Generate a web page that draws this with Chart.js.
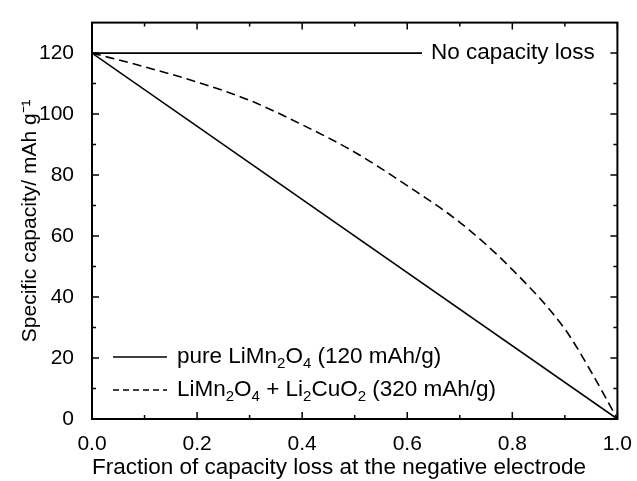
<!DOCTYPE html>
<html>
<head>
<meta charset="utf-8">
<script src="https://cdn.jsdelivr.net/npm/chart.js@4"></script>
<style>
  html, body { margin: 0; padding: 0; background: #fff; }
  #wrap { width: 637px; height: 481px; }
</style>
</head>
<body>
<div id="wrap"><canvas id="myChart"></canvas></div>
<script>
// data
const blendX = [0, 0.1, 0.2, 0.3, 0.4, 0.5, 0.6, 0.7, 0.8, 0.9, 0.95, 1.0];
const blendCapacity = [120, 115.5, 110.5, 104.5, 96.5, 87.5, 76.5, 64.5, 49, 29.5, 15.5, 0];
const pureX = [0, 1];
const pureCapacity = [120, 0];
const noLossX = [0, 0.628];
const noLossCapacity = [120, 120];
const xTicks = [0, 0.2, 0.4, 0.6, 0.8, 1.0];
const xMinorTicks = [0.1, 0.3, 0.5, 0.7, 0.9];
const yTicks = [0, 20, 40, 60, 80, 100, 120];
const yMinorTicks = [10, 30, 50, 70, 90, 110];

const FONT = "'Liberation Sans', Arial, sans-serif";
const toPoints = (xs, ys) => xs.map((x, i) => ({ x: x, y: ys[i] }));

// legend entries, subscripts marked with sub: true
const legendItems = [
  { dash: [], parts: [{ t: "pure LiMn" }, { t: "2", sub: true }, { t: "O" }, { t: "4", sub: true }, { t: " (120 mAh/g)" }] },
  { dash: [6, 4], parts: [{ t: "LiMn" }, { t: "2", sub: true }, { t: "O" }, { t: "4", sub: true }, { t: " + Li" }, { t: "2", sub: true }, { t: "CuO" }, { t: "2", sub: true }, { t: " (320 mAh/g)" }] },
];

// frame, inward ticks, labels
const decorations = {
  id: "decorations",
  afterDraw(chart) {
    const { ctx, chartArea: a, scales } = chart;
    const x = scales.x, y = scales.y;
    ctx.save();
    ctx.strokeStyle = "#000";
    ctx.lineWidth = 1.5;
    const tick = (vals, len) => {
      vals.forEach(v => {
        const px = x.getPixelForValue(v);
        ctx.beginPath();
        ctx.moveTo(px, a.bottom); ctx.lineTo(px, a.bottom - len);
        ctx.moveTo(px, a.top); ctx.lineTo(px, a.top + len);
        ctx.stroke();
      });
    };
    const tickY = (vals, len) => {
      vals.forEach(v => {
        const py = y.getPixelForValue(v);
        ctx.beginPath();
        ctx.moveTo(a.left, py); ctx.lineTo(a.left + len, py);
        ctx.moveTo(a.right, py); ctx.lineTo(a.right - len, py);
        ctx.stroke();
      });
    };
    tick(xTicks, 7);
    tick(xMinorTicks, 4);
    tickY(yTicks, 7);
    tickY(yMinorTicks, 4);
    ctx.lineWidth = 2;
    ctx.strokeRect(a.left, a.top, a.right - a.left, a.bottom - a.top);

    // "No capacity loss" label
    ctx.fillStyle = "#000";
    ctx.font = "22.5px " + FONT;
    ctx.textBaseline = "middle";
    ctx.fillText("No capacity loss", x.getPixelForValue(noLossX[1]) + 9, y.getPixelForValue(120));

    // legend
    legendItems.forEach((item, i) => {
      const ly = a.bottom - 62 + i * 33;
      ctx.lineWidth = 1.5;
      ctx.setLineDash(item.dash);
      ctx.beginPath();
      ctx.moveTo(a.left + 21, ly);
      ctx.lineTo(a.left + 75, ly);
      ctx.stroke();
      ctx.setLineDash([]);
      let tx = a.left + 85;
      item.parts.forEach(p => {
        ctx.font = (p.sub ? "15px " : "22.5px ") + FONT;
        ctx.fillText(p.t, tx, ly + (p.sub ? 7 : 0));
        tx += ctx.measureText(p.t).width;
      });
    });
    ctx.restore();
  },
};

const lineStyle = {
  borderColor: "#000",
  backgroundColor: "#000",
  borderWidth: 1.6,
  pointRadius: 0,
  showLine: true,
  fill: false,
};

const config = {
  type: "scatter",
  data: {
    datasets: [
      { ...lineStyle, label: "No capacity loss", data: toPoints(noLossX, noLossCapacity) },
      { ...lineStyle, label: "pure LiMn2O4", data: toPoints(pureX, pureCapacity) },
      { ...lineStyle, label: "LiMn2O4 + Li2CuO2", data: toPoints(blendX, blendCapacity),
        borderDash: [9, 5], cubicInterpolationMode: "monotone" },
    ],
  },
  options: {
    responsive: true,
    maintainAspectRatio: false,
    animation: false,
    layout: { padding: { left: 0, right: 18, top: 13, bottom: 0 } },
    scales: {
      x: {
        type: "linear",
        min: 0,
        max: 1,
        grid: { display: false },
        border: { display: false },
        afterBuildTicks: s => { s.ticks = xTicks.map(v => ({ value: v })); },
        afterFit: s => { s.height = 62; },
        ticks: {
          color: "#000",
          font: { family: FONT, size: 21 },
          padding: 5,
          maxRotation: 0,
          callback: v => v.toFixed(1),
        },
        title: {
          display: true,
          align: "start",
          text: "Fraction of capacity loss at the negative electrode",
          color: "#000",
          font: { family: FONT, size: 22.5 },
          padding: { top: 0, bottom: 0 },
        },
      },
      y: {
        min: 0,
        max: 130,
        grid: { display: false },
        border: { display: false },
        afterBuildTicks: s => { s.ticks = yTicks.map(v => ({ value: v })); },
        afterFit: s => { s.width = 92; },
        ticks: {
          color: "#000",
          font: { family: FONT, size: 21 },
          padding: 10,
        },
        title: {
          display: true,
          text: "Specific capacity/ mAh g\u207B\u00B9",
          color: "#000",
          font: { family: FONT, size: 21 },
          padding: { top: 18, bottom: 0 },
        },
      },
    },
    plugins: {
      legend: { display: false },
      tooltip: { enabled: false },
    },
  },
  plugins: [decorations],
};

const myChart = new Chart(document.getElementById("myChart"), config);
</script>
</body>
</html>
